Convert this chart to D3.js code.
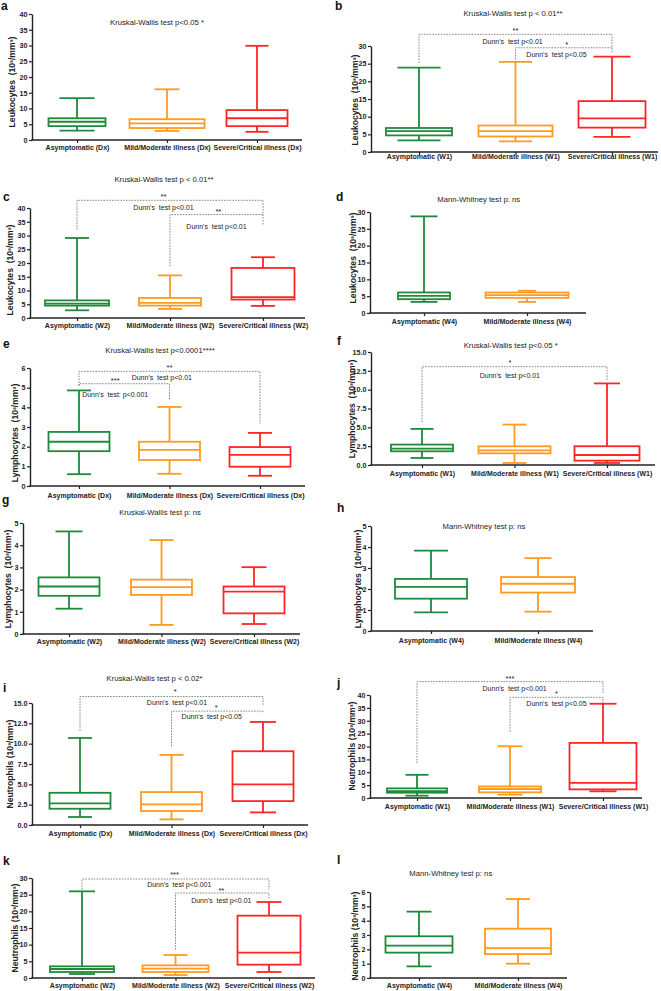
<!DOCTYPE html>
<html>
<head>
<meta charset="utf-8">
<script src="https://cdn.jsdelivr.net/npm/d3@7"></script>
<style>
  body { margin: 0; background: #fff; }
  svg { display: block; font-family: "Liberation Sans", Arial, sans-serif; }
  text { white-space: pre; }
</style>
</head>
<body>
<svg id="fig" width="661" height="991"></svg>
<script>
// group colours: asymptomatic, mild/moderate, severe/critical
const groupColors = ["#1f8a3b", "#ff9a22", "#ff2525"]

// categories
const catsDx = ["Asymptomatic (Dx)", "Mild/Moderate illness (Dx)", "Severe/Critical illness (Dx)"]
const catsW1 = ["Asymptomatic (W1)", "Mild/Moderate illness (W1)", "Severe/Critical illness (W1)"]
const catsW2 = ["Asymptomatic (W2)", "Mild/Moderate illness (W2)", "Severe/Critical illness (W2)"]
const catsW4 = ["Asymptomatic (W4)", "Mild/Moderate illness (W4)"]

// box stats per group: [min, Q1, median, Q3, max]
const leukDx = [[3.0, 4.4, 5.8, 6.9, 13.3], [2.9, 3.8, 5.3, 6.6, 16.1], [2.6, 4.4, 6.9, 9.5, 29.9]]
const leukW1 = [[3.3, 4.7, 5.9, 6.8, 23.9], [3.0, 4.4, 5.9, 7.5, 25.5], [4.3, 6.9, 9.5, 14.4, 27.0]]
const leukW2 = [[2.8, 4.5, 5.2, 6.4, 29.1], [3.3, 4.5, 5.5, 7.3, 15.5], [4.4, 6.7, 7.6, 18.2, 22.1]]
const leukW4 = [[3.3, 4.1, 5.1, 6.1, 28.7], [3.3, 4.5, 5.3, 6.1, 6.6]]
const lymphDx = [[0.6, 1.77, 2.25, 2.75, 4.86], [0.62, 1.32, 1.84, 2.25, 4.02], [0.52, 0.98, 1.58, 1.98, 2.7]]
const lymphW1 = [[0.93, 1.82, 2.17, 2.71, 4.79], [0.27, 1.55, 1.95, 2.49, 5.37], [0.27, 0.58, 1.33, 2.49, 10.83]]
const lymphW2 = [[1.14, 1.72, 2.14, 2.55, 4.62], [0.41, 1.76, 2.11, 2.45, 4.23], [0.45, 0.93, 1.91, 2.14, 3.01]]
const lymphW4 = [[0.89, 1.54, 2.1, 2.48, 3.83], [0.92, 1.83, 2.25, 2.57, 3.47]]
const neutDx = [[0.98, 2.0, 2.66, 3.96, 10.7], [0.69, 1.72, 2.53, 4.05, 8.62], [1.55, 2.94, 4.99, 9.07, 12.67]]
const neutW1 = [[0.9, 2.06, 2.7, 3.74, 9.0], [1.3, 2.2, 3.5, 4.5, 20.1], [2.6, 3.35, 5.9, 21.4, 36.6]]
const neutW2 = [[1.2, 1.8, 2.7, 3.5, 26.0], [0.9, 1.8, 2.8, 3.8, 6.9], [1.8, 4.0, 7.6, 18.7, 22.8]]
const neutW4 = [[0.81, 1.77, 2.26, 2.91, 4.63], [1.0, 1.67, 2.09, 3.44, 5.51]]

// y tick values
const ticks40 = [0, 5, 10, 15, 20, 25, 30, 35, 40]
const ticks30 = [0, 5, 10, 15, 20, 25, 30]
const ticks15 = [0, 2.5, 5, 7.5, 10, 12.5, 15]
const ticks6 = [0, 1, 2, 3, 4, 5, 6]
const ticks5 = [0, 1, 2, 3, 4, 5]

// texts
const leukLabel = "Leukocytes  (10³/mm³)"
const lymphLabel = "Lymphocytes  (10³/mm³)"
const neutLabel = "Neutrophils (10³/mm³)"
const titles = {
    a: "Kruskal-Wallis test p<0.05 *",
    b: "Kruskal-Wallis test p < 0.01**",
    c: "Kruskal-Wallis test p < 0.01**",
    d: "Mann-Whitney test p: ns",
    e: "Kruskal-Wallis test p<0.0001****",
    f: "Kruskal-Wallis test p<0.05 *",
    g: "Kruskal-Wallis test p: ns",
    h: "Mann-Whitney test p: ns",
    i: "Kruskal-Wallis test p < 0.02*",
    l: "Mann-Whitney test p: ns"
}

// layout of each panel (pixels), brackets in data units / category index
const panels = [
    { id: "a", cats: catsDx, values: leukDx, ticks: ticks40, ylab: leukLabel,
      x0: 32, x1: 302, yTop: 14, yBot: 140, cx: [77, 257], boxW: [57, 75, 61], capW: [35, 25, 23],
      letter: [1, 10], titlePos: [157, 25], ylabPos: [12, 82], catY: 149.5, notes: [] },
    { id: "b", cats: catsW1, values: leukW1, ticks: ticks30, ylab: leukLabel,
      x0: 371, x1: 658, yTop: 46, yBot: 152, cx: [419, 612], boxW: [66, 74, 67], capW: [43, 33, 37],
      letter: [335, 10], titlePos: [513, 15.7], ylabPos: [355, 100], catY: 159,
      notes: [
        { from: 0, to: 2, y: 33.3, yFrom: 25.2, yTo: 27.9, star: "**", sx: 1.0, sy: 33.6, text: "Dunn's  test p<0.01", tx: 0.97, ty: 30.5 },
        { from: 1, to: 2, y: 29.5, yFrom: 26.2, yTo: 29.5, star: "*", sx: 1.53, sy: 29.8, text: "Dunn's  test p<0.05", tx: 1.425, ty: 26.8 }
      ] },
    { id: "c", cats: catsW2, values: leukW2, ticks: ticks40, ylab: leukLabel,
      x0: 30, x1: 305, yTop: 208, yBot: 318, cx: [77, 263], boxW: [64, 62, 63], capW: 24,
      letter: [3, 201], titlePos: [164, 181.7], ylabPos: [10, 270], catY: 328,
      notes: [
        { from: 0, to: 2, y: 42.8, yFrom: 32.1, yTo: 33.9, star: "**", sx: 0.93, sy: 43.3, text: "Dunn's  test p<0.01", tx: 0.93, ty: 39.3 },
        { from: 1, to: 2, y: 37.6, yFrom: 18.8, yTo: 37.6, star: "**", sx: 1.52, sy: 37.9, text: "Dunn's  test p<0.01", tx: 1.5, ty: 32.2 }
      ] },
    { id: "d", cats: catsW4, values: leukW4, ticks: ticks30, ylab: leukLabel,
      x0: 370, x1: 586, yTop: 212, yBot: 313, cx: [424, 527], boxW: [52, 83], capW: [27, 18],
      letter: [336, 200.7], titlePos: [478.7, 202.3], ylabPos: [353, 258], catY: 324, notes: [] },
    { id: "e", cats: catsDx, values: lymphDx, ticks: ticks6, ylab: lymphLabel,
      x0: 30, x1: 305, yTop: 368, yBot: 486, cx: [79, 260], boxW: 61, capW: 24,
      letter: [3, 348], titlePos: [160, 352.7], ylabPos: [15, 433], catY: 497.5,
      notes: [
        { from: 0, to: 2, y: 5.83, yFrom: 5.1, yTo: 3.18, star: "**", sx: 1.0, sy: 5.9, text: "Dunn's  test p<0.01", tx: 0.915, ty: 5.38 },
        { from: 0, to: 1, y: 5.2, yFrom: 5.1, yTo: 4.39, star: "***", sx: 0.4, sy: 5.24, text: "Dunn's  test: p<0.001", tx: 0.4, ty: 4.54 }
      ] },
    { id: "f", cats: catsW1, values: lymphW1, ticks: ticks15, fmt: ".1f", ylab: lymphLabel,
      x0: 371, x1: 655, yTop: 352, yBot: 465, cx: [422, 607], boxW: [62, 72, 65], capW: [23, 24, 26],
      letter: [337, 345], titlePos: [510.7, 347.7], ylabPos: [352, 409], catY: 476,
      notes: [
        { from: 0, to: 2, y: 13.05, yFrom: 5.7, yTo: 11.3, star: "*", sx: 0.95, sy: 13.3, text: "Dunn's  test p<0.01", tx: 0.95, ty: 11.56 }
      ] },
    { id: "g", cats: catsW2, values: lymphW2, ticks: ticks5, ylab: lymphLabel,
      x0: 23, x1: 300, yTop: 523, yBot: 634, cx: [69, 254], boxW: 61, capW: [27, 24, 25],
      letter: [2, 504], titlePos: [160, 514.7], ylabPos: [8, 579], catY: 644, notes: [] },
    { id: "h", cats: catsW4, values: lymphW4, ticks: ticks5, ylab: lymphLabel,
      x0: 371, x1: 593, yTop: 526, yBot: 631, cx: [431, 538], boxW: [72, 74], capW: [34, 27],
      letter: [337, 512], titlePos: [484, 529.3], ylabPos: [358, 579], catY: 642.5, notes: [] },
    { id: "i", cats: catsDx, values: neutDx, ticks: ticks15, fmt: ".1f", ylab: neutLabel,
      x0: 32, x1: 308, yTop: 703, yBot: 825, cx: [80, 263], boxW: 61, capW: [24, 24, 26],
      letter: [3, 692], titlePos: [154.5, 681], ylabPos: [10, 764], catY: 836,
      notes: [
        { from: 0, to: 2, y: 15.8, yFrom: 11.6, yTo: 14.6, star: "*", sx: 1.04, sy: 16.16, text: "Dunn's  test p<0.01", tx: 1.06, ty: 14.8 },
        { from: 1, to: 2, y: 14.0, yFrom: 9.7, yTo: 13.8, star: "*", sx: 1.49, sy: 14.1, text: "Dunn's  test p<0.05", tx: 1.44, ty: 13.06 }
      ] },
    { id: "j", cats: catsW1, values: neutW1, ticks: ticks40, ylab: neutLabel,
      x0: 370, x1: 642, yTop: 695, yBot: 798, cx: [417, 603], boxW: [60, 62, 67], capW: [23, 25, 27],
      letter: [337, 687], titlePos: null, ylabPos: [352, 746], catY: 808.5,
      notes: [
        { from: 0, to: 2, y: 45.2, yFrom: 13.5, yTo: 40.6, star: "***", sx: 1.0, sy: 45.5, text: "Dunn's  test p<0.001", tx: 1.05, ty: 41.7 },
        { from: 1, to: 2, y: 39.1, yFrom: 25.8, yTo: 36.8, star: "*", sx: 1.5, sy: 39.8, text: "Dunn's  test p<0.05", tx: 1.5, ty: 35.7 }
      ] },
    { id: "k", cats: catsW2, values: neutW2, ticks: ticks30, ylab: neutLabel,
      x0: 32, x1: 315, yTop: 878, yBot: 978, cx: [82, 269], boxW: [64, 66, 63], capW: [26, 24, 25],
      letter: [3, 865], titlePos: null, ylabPos: [15, 928], catY: 988,
      notes: [
        { from: 0, to: 2, y: 29.7, yFrom: 26.5, yTo: 26.5, star: "***", sx: 0.99, sy: 30.3, text: "Dunn's  test p<0.001", tx: 1.04, ty: 27.25 },
        { from: 1, to: 2, y: 25.5, yFrom: 8.5, yTo: 24.0, star: "**", sx: 1.49, sy: 25.6, text: "Dunn's  test p<0.01", tx: 1.49, ty: 22.65 }
      ] },
    { id: "l", cats: catsW4, values: neutW4, ticks: ticks6, ylab: neutLabel,
      x0: 370, x1: 567, yTop: 892, yBot: 978, cx: [419, 518], boxW: [67, 66], capW: [25, 24],
      letter: [337, 864], titlePos: [450.8, 875.7], ylabPos: [355, 936], catY: 988, notes: [] }
]

const svg = d3.select("#fig")
const ink = "#222"

function pick(v, i) { return Array.isArray(v) ? v[i] : v }

function drawPanel(p) {
    const g = svg.append("g").attr("class", "panel-" + p.id)
    const n = p.cats.length

    const y = d3.scaleLinear().domain([0, d3.max(p.ticks)]).range([p.yBot, p.yTop])
    const x = d3.scalePoint().domain(p.cats).range(p.cx)
    const xi = d3.scaleLinear().domain([0, n - 1]).range(p.cx)

    // y axis
    const yAxis = g.append("g")
        .attr("transform", `translate(${p.x0},0)`)
        .call(d3.axisLeft(y).tickValues(p.ticks).tickSize(3).tickSizeOuter(0)
            .tickFormat(d3.format(p.fmt || "d")).tickPadding(1.5))
    yAxis.select(".domain").attr("stroke", ink).attr("stroke-width", 1.4)
    yAxis.selectAll(".tick line").attr("stroke", ink).attr("stroke-width", 1.2)
    yAxis.selectAll(".tick text")
        .attr("fill", ink)
        .style("font-size", "7.2px")
        .style("font-weight", "bold")
        .style("font-family", "'Liberation Sans', Arial, sans-serif")

    // x axis
    g.append("line")
        .attr("x1", p.x0 - 0.7).attr("x2", p.x1)
        .attr("y1", p.yBot).attr("y2", p.yBot)
        .attr("stroke", ink).attr("stroke-width", 1.4)
    const xAxis = g.append("g")
        .attr("transform", `translate(0,${p.yBot})`)
        .call(d3.axisBottom(x).tickSize(3).tickSizeOuter(0))
    xAxis.select(".domain").remove()
    xAxis.selectAll(".tick line").attr("stroke", ink).attr("stroke-width", 1.2)
    xAxis.selectAll(".tick text")
        .attr("y", p.catY - p.yBot).attr("dy", 0)
        .attr("fill", ink)
        .style("font-size", "7px")
        .style("font-weight", "bold")
        .style("font-family", "'Liberation Sans', Arial, sans-serif")

    // boxes
    const box = g.selectAll(".box").data(p.values).join("g")
        .attr("class", "box")
        .attr("stroke", (d, i) => groupColors[i])
        .attr("stroke-width", 1.8)
        .attr("fill", "none")

    box.append("line")
        .attr("x1", (d, i) => x(p.cats[i])).attr("x2", (d, i) => x(p.cats[i]))
        .attr("y1", d => y(d[3])).attr("y2", d => y(d[4]))
    box.append("line")
        .attr("x1", (d, i) => x(p.cats[i])).attr("x2", (d, i) => x(p.cats[i]))
        .attr("y1", d => y(d[1])).attr("y2", d => y(d[0]))
    box.append("line")
        .attr("x1", (d, i) => x(p.cats[i]) - pick(p.capW, i) / 2)
        .attr("x2", (d, i) => x(p.cats[i]) + pick(p.capW, i) / 2)
        .attr("y1", d => y(d[4])).attr("y2", d => y(d[4]))
    box.append("line")
        .attr("x1", (d, i) => x(p.cats[i]) - pick(p.capW, i) / 2)
        .attr("x2", (d, i) => x(p.cats[i]) + pick(p.capW, i) / 2)
        .attr("y1", d => y(d[0])).attr("y2", d => y(d[0]))
    box.append("rect")
        .attr("x", (d, i) => x(p.cats[i]) - pick(p.boxW, i) / 2)
        .attr("width", (d, i) => pick(p.boxW, i))
        .attr("y", d => y(d[3]))
        .attr("height", d => y(d[1]) - y(d[3]))
        .attr("fill", "#fff")
    box.append("line")
        .attr("x1", (d, i) => x(p.cats[i]) - pick(p.boxW, i) / 2)
        .attr("x2", (d, i) => x(p.cats[i]) + pick(p.boxW, i) / 2)
        .attr("y1", d => y(d[2])).attr("y2", d => y(d[2]))

    // significance brackets
    p.notes.forEach(nt => {
        const pts = [[xi(nt.from), y(nt.yFrom)], [xi(nt.from), y(nt.y)], [xi(nt.to), y(nt.y)], [xi(nt.to), y(nt.yTo)]]
        g.append("path")
            .attr("d", d3.line()(pts))
            .attr("fill", "none")
            .attr("stroke", "#7a7a7a")
            .attr("stroke-width", 0.9)
            .attr("stroke-dasharray", "1.6,1.2")
        g.append("text")
            .attr("x", xi(nt.sx)).attr("y", y(nt.sy))
            .attr("text-anchor", "middle")
            .style("font-size", "7.5px")
            .attr("fill", ink)
            .text(nt.star)
        g.append("text")
            .attr("x", xi(nt.tx)).attr("y", y(nt.ty))
            .attr("text-anchor", "middle")
            .style("font-size", "7px")
            .attr("fill", ink)
            .text(nt.text)
    })

    // y label
    g.append("text")
        .attr("transform", `translate(${p.ylabPos[0]},${p.ylabPos[1]}) rotate(-90)`)
        .attr("text-anchor", "middle")
        .attr("dy", "0.35em")
        .style("font-size", "8.6px")
        .style("font-weight", "bold")
        .attr("fill", ink)
        .text(p.ylab)

    // title
    if (p.titlePos) {
        g.append("text")
            .attr("x", p.titlePos[0]).attr("y", p.titlePos[1])
            .attr("text-anchor", "middle")
            .style("font-size", "7.7px")
            .attr("fill", ink)
            .text(titles[p.id])
    }

    // panel letter
    g.append("text")
        .attr("x", p.letter[0]).attr("y", p.letter[1])
        .style("font-size", "12px")
        .style("font-weight", "bold")
        .attr("fill", "#111")
        .text(p.id)
}

panels.forEach(drawPanel)
</script>
</body>
</html>
